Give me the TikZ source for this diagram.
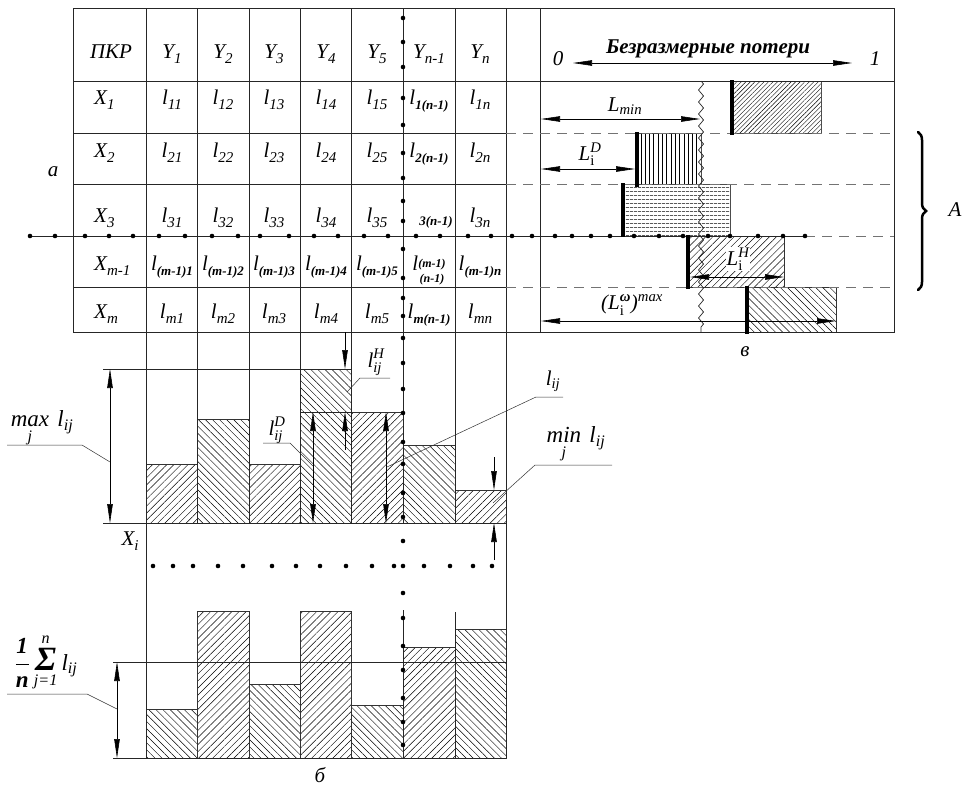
\documentclass[tikz,border=0pt]{standalone}
\usepackage{amsmath}
\usepackage{fontspec}
\setmainfont{Liberation Serif}
\usetikzlibrary{arrows.meta,positioning,patterns.meta,decorations.pathmorphing,decorations.pathreplacing}

\newcommand{\sub}[1]{\raisebox{-5pt}{\fontsize{15}{15}\selectfont\itshape #1}}
\newcommand{\bsub}[1]{\raisebox{-5pt}{\fontsize{13}{13}\selectfont\bfseries\itshape #1}}

\tikzset{
  grid/.style={draw=black!85, line width=0.7pt},
  dashrow/.style={draw=black!55, line width=0.6pt, dash pattern=on 10pt off 7pt},
  leader/.style={draw=black!80, line width=0.5pt},
  entry/.style={anchor=base, inner sep=0pt, font=\fontsize{21}{25}\selectfont\itshape},
  tag/.style={inner sep=0pt, font=\fontsize{21}{25}\selectfont\itshape},
  bigtag/.style={tag, font=\fontsize{23}{27}\selectfont\itshape},
  dimline/.style={line width=0.6pt, >={Triangle[length=19pt,width=5.5pt]}},
  lossbar/.style={line width=4pt},
  barNE/.style={draw=black!80, line width=0.6pt,
    pattern={Lines[angle=45,distance=5pt,line width=0.45pt]}},
  barNW/.style={draw=black!80, line width=0.6pt,
    pattern={Lines[angle=-45,distance=5pt,line width=0.45pt]}},
  boxfine/.style={draw=black!70, line width=0.5pt,
    pattern={Lines[angle=45,distance=3.2pt,line width=0.4pt]}},
  boxvert/.style={draw=black!70, line width=0.5pt,
    pattern={Lines[angle=90,distance=4.3pt,line width=0.4pt]}},
  boxhoriz/.style={draw=black!70, line width=0.5pt,
    pattern={Lines[angle=0,distance=4pt,line width=0.4pt]}}
}

\begin{document}
\begin{tikzpicture}[x=1pt,y=-1pt]
  \useasboundingbox (0,0) rectangle (970,787);

  % Histogram bars (upper: one row X_i)
  \foreach \xa/\xb/\top/\hs in {146/197/464/barNE, 197/249/419/barNW,
      249/300/464/barNE, 300/351/369/barNW, 351/403/412/barNE,
      403/455/445/barNW, 455/506/490/barNE}
    \draw[\hs] (\xa,\top) rectangle (\xb,523);
  \draw[grid] (300,412) -- (351,412);

  % Histogram bars (lower: mean value)
  \foreach \xa/\xb/\top/\hs in {146/197/709/barNW, 197/249/611/barNE,
      249/300/684/barNW, 300/351/611/barNE, 351/403/705/barNW,
      403/455/647/barNE, 455/506/629/barNW}
    \draw[\hs] (\xa,\top) rectangle (\xb,758);

  % Loss boxes
  \draw[boxfine]  (732,81)  rectangle (821,133);
  \draw[boxvert]  (637,133) rectangle (701,184);
  \draw[boxhoriz] (623,184) rectangle (730,236);
  \draw[barNE]    (688,236) rectangle (784,287);
  \draw[barNW]    (747,287) rectangle (836,332);

  % Table grid
  \draw[grid] (73,8) rectangle (894,332);
  \draw[grid] (73,81) -- (894,81);
  \foreach \y in {133,184,287}
    \draw[grid] (73,\y) -- (506,\y);
  \foreach \x in {197,249,300,351,403,455}
    \draw[grid] (\x,8) -- (\x,523);
  \draw[grid] (146,8) -- (146,758);
  \draw[grid] (506,8) -- (506,758);
  \draw[grid] (540,8) -- (540,332);
  \draw[grid] (403,610) -- (403,758);
  \draw[grid] (455,612) -- (455,758);
  \draw[grid] (103,369) -- (351,369);
  \draw[grid] (103,523) -- (506,523);
  \draw[grid] (113,662) -- (506,662);
  \draw[grid] (113,758) -- (506,758);

  % Dashed rows of the loss panel
  \foreach \y in {133,184,287}
    \draw[dashrow] (506,\y) -- (894,\y);
  \draw[dashrow] (805,236) -- (894,236);
  \draw[grid, decorate, decoration={zigzag,segment length=12pt,amplitude=2.5pt}]
    (701,81) -- (701,332);

  % Dotted row and column
  \draw[grid] (28,236) -- (805,236);
  \foreach \x in {30,55,85,109,133,159,185,212,238,260,289,314,338,364,388,
      416,440,468,491,512,532,555,572,591,610,634,659,683,708,730,758,783,805}
    \fill (\x,236) circle (2.3pt);
  \foreach \y in {18,42,67,98,125,153,178,201,221,249,278,298,316,338,363,
      389,413,442,464,493,517,541,566,593,618,646,670,698,722,745}
    \fill (403,\y) circle (2.3pt);
  \foreach \x in {153,173,193,218,243,272,296,320,346,372,394,424,450,473,492}
    \fill (\x,566) circle (2.3pt);

  % Loss bars
  \draw[lossbar] (732,80) -- (732,135);
  \draw[lossbar] (637,132) -- (637,187);
  \draw[lossbar] (623,183) -- (623,237);
  \draw[lossbar] (688,235) -- (688,289);
  \draw[lossbar] (747,286) -- (747,334);

  % Header
  \node[entry] (hPKR) at (111,58) {ПКР};
  \foreach \c/\x in {1/172,2/223,3/274,4/326,5/377}
    \node[entry] (hY\c) at (\x,58) {Y\sub{\c}};
  \node[entry] (hYn1) at (429,58) {Y\sub{n-1}};
  \node[entry] (hYn) at (480,58) {Y\sub{n}};

  % Rows
  \foreach \r/\y in {1/104,2/157,3/222,m/318}{
    \node[entry, anchor=base west] (x\r) at (94,\y) {X\sub{\r}};
    \foreach \c/\x in {1/172,2/223,3/274,4/326,5/377}
      \node[entry] (l\r\c) at (\x,\y) {l\sub{\r\c}};
    \node[entry] (l\r n) at (480,\y) {l\sub{\r n}};
  }
  \node[entry] (l1n1) at (429,104) {l\bsub{1(n-1)}};
  \node[entry] (l2n1) at (429,157) {l\bsub{2(n-1)}};
  \node[entry] (l3n1) at (436,225) {\fontsize{13}{13}\selectfont\bfseries 3(n-1)};
  \node[entry] (lmn1) at (429,318) {l\bsub{m(n-1)}};

  \node[entry, anchor=base west] (xm1) at (94,270) {X\sub{m-1}};
  \foreach \c/\x in {1/172,2/223,3/274,4/326,5/377}
    \node[entry] (lm1\c) at (\x,270) {l\bsub{(m-1)\c}};
  \node[entry] (lm1n1) at (429,270) {l\raisebox{-12pt}{\fontsize{12}{15}\selectfont
    \bfseries\itshape\begin{tabular}[b]{@{}c@{}}(m-1)\\(n-1)\end{tabular}}};
  \node[entry] (lm1n) at (480,270) {l\bsub{(m-1)n}};

  % Loss axis
  \node[entry] (zero) at (558,65) {0};
  \node[entry] (one) at (875,65) {1};
  \draw[dimline, <->] (573,63) -- (852,63);
  \node[entry, font=\fontsize{21}{25}\selectfont\bfseries\itshape] (axis)
    at (708,53) {Безразмерные потери};

  % Loss dimensions
  \draw[dimline, <->] (541,119) -- (700,119);
  \node[tag] (Lmin) at (625,106) {$\textit{L}_{\textit{min}}$};
  \draw[dimline, <->] (541,169) -- (635,169);
  \node[tag] (LD) at (590,154) {$\textit{L}_{\textup{i}}^{\textit{D}}$};
  \draw[dimline, <->] (690,277) -- (784,277);
  \node[tag, fill=white, inner sep=1pt] (LH) at (738,259) {$\textit{L}_{\textup{i}}^{\textit{H}}$};
  \draw[dimline, <->] (541,321) -- (836,321);
  \node[tag] (Lmax) at (632,305)
    {\textit{(L}$_{\textup{i}}^{\textbf{\textit{ω}}}$\textit{)}$^{\textit{max}}$};

  % Upper histogram dimensions
  \draw[dimline, <->] (110,369) -- (110,523);
  \draw[leader] (7,445) -- (82,445) -- (110,462);
  \node[bigtag] (maxl) at (42,429)
    {$\mathop{\textit{max}}\limits_{\textit{j}}\,\textit{l}_{\textit{ij}}$};
  \draw[dimline, ->] (345,332) -- (345,369);
  \draw[dimline, ->] (345,450) -- (345,412);
  \draw[leader] (390,378) -- (360,378) -- (347,392);
  \node[tag] (lH) at (376,362) {$\textit{l}_{\textit{ij}}^{\textit{H}}$};
  \draw[dimline, <->] (313,412) -- (313,523);
  \draw[leader] (263,443) -- (290,443) -- (313,466);
  \node[tag] (lD) at (277,430) {$\textit{l}_{\textit{ij}}^{\textit{D}}$};
  \draw[dimline, <->] (386,412) -- (386,523);
  \draw[leader] (563,397) -- (536,397) -- (387,467);
  \node[tag] (lij) at (553,381) {$\textit{l}_{\textit{ij}}$};
  \draw[dimline, ->] (494,457) -- (494,490);
  \draw[dimline, ->] (494,560) -- (494,523);
  \draw[leader] (612,465) -- (535,465) -- (493,503);
  \node[bigtag] (minl) at (576,445)
    {$\mathop{\textit{min}}\limits_{\textit{j}}\,\textit{l}_{\textit{ij}}$};
  \node[tag] (xi) at (130,541) {X\sub{i}};

  % Lower histogram dimension
  \draw[dimline, <->] (117,662) -- (117,758);
  \draw[leader] (7,694) -- (87,694) -- (117,709);
  \node[bigtag] (meanl) at (46,662)
    {$\dfrac{\textbf{\textit{1}}}{\textbf{\textit{n}}}
     \mathop{\text{\fontsize{34}{34}\selectfont\bfseries Σ}}\limits_{\textit{j=1}}^{\textit{n}}
     \textit{l}_{\textit{ij}}$};

  % Group brace
  \draw[decorate, decoration={brace,amplitude=8pt}, line width=2.5pt, line cap=round]
    (918,132) -- (918,290);
  \node[tag] (grpA) at (955,210) {A};

  % Part labels
  \node[tag] (partA) at (53,172) {а};
  \node[tag] (partB) at (320,775) {б};
  \node[tag] (partV) at (745,352) {в};
\end{tikzpicture}
\end{document}
